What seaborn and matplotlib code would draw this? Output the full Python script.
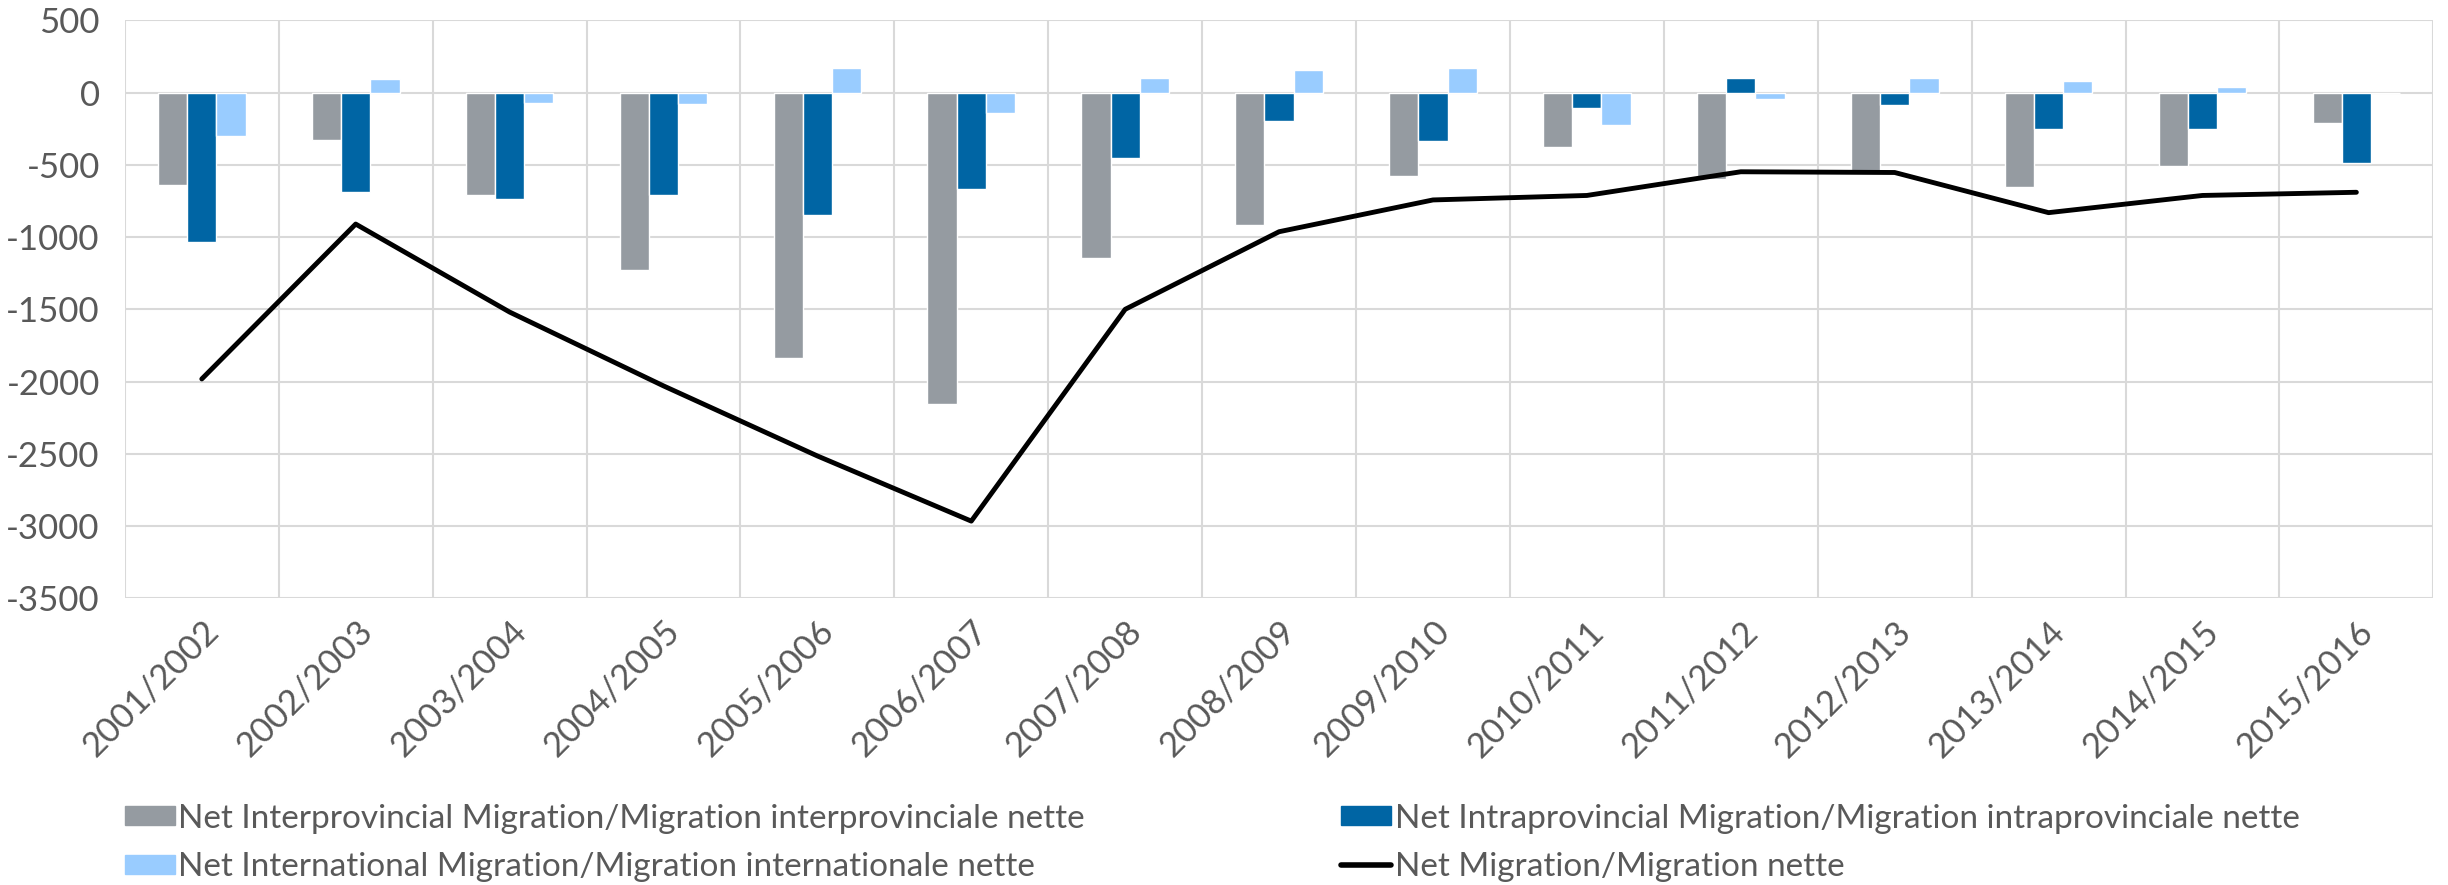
import pandas as pd
import numpy as np
import matplotlib
matplotlib.use('Agg')
import matplotlib.pyplot as plt
import seaborn as sns
from matplotlib.patches import Patch
from matplotlib.lines import Line2D

# Données
seasons = ['2001/2002', '2002/2003', '2003/2004', '2004/2005', '2005/2006',
           '2006/2007', '2007/2008', '2008/2009', '2009/2010', '2010/2011',
           '2011/2012', '2012/2013', '2013/2014', '2014/2015', '2015/2016']
interprovincial = [-640, -328, -709, -1230, -1839, -2156, -1143, -918, -579, -378,
                   -600, -560, -656, -508, -209]
intraprovincial = [-1032, -685, -738, -709, -847, -669, -455, -198, -333, -106,
                   98, -85, -251, -251, -484]
international = [-299, 95, -71, -79, 172, -138, 98, 153, 167, -225,
                 -42, 98, 79, 40, 0]
net_migration = [-1982, -910, -1519, -2030, -2515, -2966, -1500, -963, -743, -712,
                 -548, -553, -831, -712, -690]

labels = ['Net Interprovincial Migration/Migration interprovinciale nette',
          'Net Intraprovincial Migration/Migration intraprovinciale nette',
          'Net International Migration/Migration internationale nette',
          'Net Migration/Migration nette']
colors = ['#959ba1', '#0065a4', '#99ccff']
y_ticks = list(range(-3500, 501, 500))

df = pd.DataFrame({
    'season': seasons * 3,
    'value': interprovincial + intraprovincial + international,
    'series': [labels[0]] * 15 + [labels[1]] * 15 + [labels[2]] * 15,
})

sns.set_style('white')
plt.rcParams['font.family'] = ['Lato', 'DejaVu Sans']
plt.rcParams['axes.unicode_minus'] = False
text_color = '#595959'

fig = plt.figure(figsize=(24.48, 8.85), dpi=100)
ax = fig.add_axes([0.051, 0.324, 0.943, 0.653])

sns.barplot(data=df, x='season', y='value', hue='series', order=seasons,
            hue_order=labels[:3], palette=colors, width=0.57, gap=0,
            saturation=1, errorbar=None, legend=False, ax=ax, zorder=2)
sns.lineplot(x=np.arange(len(seasons)), y=net_migration, color='black',
             linewidth=3.5, ax=ax, zorder=3)

ax.set_xlim(-0.5, len(seasons) - 0.5)
ax.set_ylim(-3500, 500)
ax.set_yticks(y_ticks)
ax.set_xticks(range(len(seasons)))
ax.set_xticklabels(seasons, rotation=45, ha='right', rotation_mode='anchor')
ax.set_xticks(np.arange(-0.5, len(seasons), 1), minor=True)
ax.tick_params(axis='x', which='major', length=0, labelsize=25, colors=text_color, pad=12)
ax.tick_params(axis='x', which='minor', length=0)
ax.tick_params(axis='y', length=0, labelsize=25, colors=text_color, pad=18)
ax.grid(axis='y', which='major', color='#d9d9d9', linewidth=1.5, zorder=0)
ax.grid(axis='x', which='minor', color='#d9d9d9', linewidth=1.5, zorder=0)
ax.grid(axis='x', which='major', visible=False)
ax.set_axisbelow(True)
ax.set_xlabel('')
ax.set_ylabel('')
for s in ax.spines.values():
    s.set_visible(False)

handles = [Patch(color=colors[0]), Patch(color=colors[2]),
           Patch(color=colors[1]), Line2D([], [], color='black', linewidth=4)]
hl_labels = [labels[0], labels[2], labels[1], labels[3]]
fig.legend(handles, hl_labels, loc='upper left', bbox_to_anchor=(0.051, 0.092),
           ncol=2, frameon=False, fontsize=24, labelcolor=text_color,
           handlelength=1.5, handleheight=0.5, handletextpad=0.1,
           columnspacing=7.7, labelspacing=0.55, borderaxespad=0,
           borderpad=0)

plt.savefig('out.png', dpi=100)
